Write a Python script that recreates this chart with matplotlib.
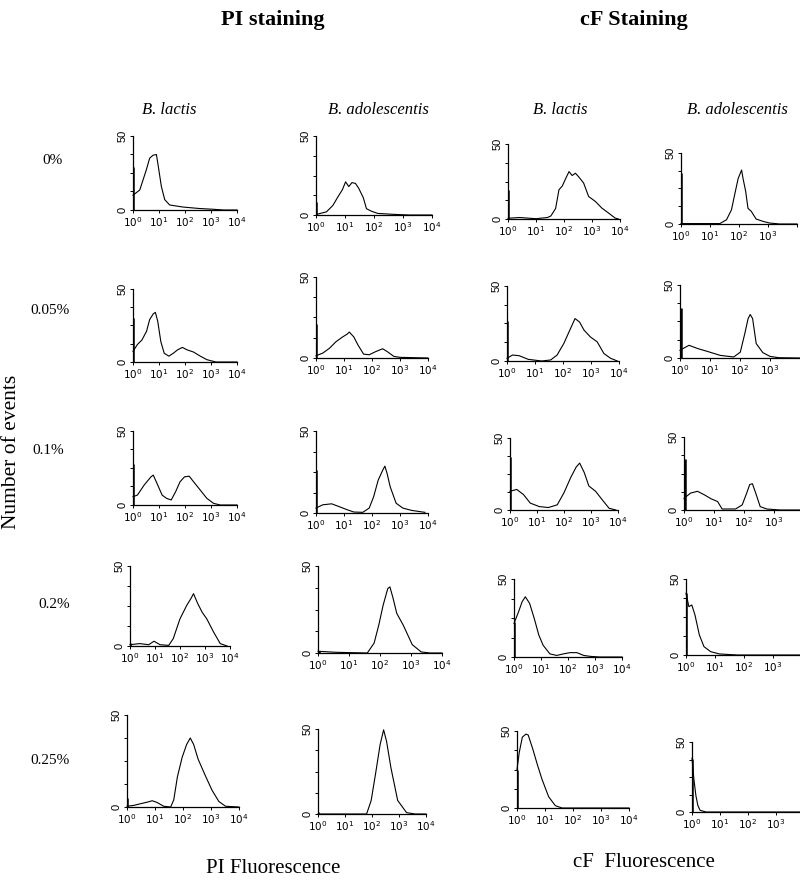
import matplotlib
matplotlib.use("Agg")
import matplotlib.pyplot as plt
import numpy as np

plt.rcParams['mathtext.fontset'] = 'custom'
plt.rcParams['mathtext.rm'] = 'Liberation Sans'
plt.rcParams['mathtext.it'] = 'Liberation Sans'

# ---- data: x in decades (log10 channel), y = number of events ----
concentrations = ['0%', '0.05%', '0.1%', '0.2%', '0.25%']
species = ['B. lactis', 'B. adolescentis', 'B. lactis', 'B. adolescentis']

# height of the first-channel spike, one value per row
spike_pi_lac = [29, 30, 28, 2, 5]
spike_pi_ado = [8, 21, 26, 1, 1]
spike_cf_lac = [19.5, 26.5, 37, 22.5, 25]
spike_cf_ado = [36, 34, 35, 41, 38]

# PI staining, B. lactis
pi_lac_0_x = [0, 0.26, 0.51, 0.64, 0.77, 0.9, 0.96, 1.09, 1.22, 1.41, 1.92, 2.56, 3.08, 3.5, 4.0]
pi_lac_0_y = [10, 13.5, 27, 35, 37, 37.5, 31, 16, 7, 3.4, 2, 1, 0.5, 0, 0]
pi_lac_1_x = [0, 0.17, 0.34, 0.52, 0.64, 0.78, 0.86, 0.95, 1.07, 1.2, 1.38, 1.55, 1.72, 1.9, 2.07, 2.33, 2.59, 2.84, 3.19, 4.0]
pi_lac_1_y = [7.3, 12, 15, 21, 29, 33, 34, 28, 14, 6, 4, 6, 8.4, 10, 8.4, 6.8, 4, 1.6, 0, 0]
pi_lac_2_x = [0, 0.17, 0.43, 0.69, 0.78, 0.95, 1.12, 1.29, 1.47, 1.64, 1.81, 1.98, 2.16, 2.33, 2.59, 2.84, 3.1, 3.36, 4.0]
pi_lac_2_y = [5.6, 6.7, 13.5, 19, 20.2, 13.5, 6.7, 4.5, 3.4, 9, 15.7, 19, 19.5, 15.7, 10, 4.5, 1.1, 0, 0]
pi_lac_3_x = [0, 0.39, 0.75, 0.96, 1.2, 1.55, 1.73, 2.0, 2.27, 2.45, 2.54, 2.71, 2.89, 3.07, 3.34, 3.61, 3.88]
pi_lac_3_y = [0.8, 1.5, 0.8, 3, 0.8, 0.4, 4.6, 17, 25.4, 30, 32.7, 26.5, 21, 17, 8.8, 1.5, 0]
pi_lac_4_x = [0, 0.25, 0.49, 0.74, 0.9, 1.07, 1.31, 1.56, 1.67, 1.8, 1.97, 2.13, 2.26, 2.38, 2.54, 2.79, 3.03, 3.28, 3.52, 4.0]
pi_lac_4_y = [0.4, 0.9, 1.8, 2.7, 3.4, 2.5, 0.4, 0, 3.9, 16.4, 27, 34, 37.5, 34, 26, 17.3, 9.3, 3, 0.4, 0]

# PI staining, B. adolescentis
pi_ado_0_x = [0.02, 0.36, 0.58, 0.74, 0.91, 1.02, 1.13, 1.24, 1.36, 1.47, 1.63, 1.74, 1.91, 2.13, 2.69, 3.2, 4.0]
pi_ado_0_y = [0.4, 2, 6, 11, 16, 21, 18, 20.5, 20, 17, 11, 4, 2.4, 1, 0.4, 0, 0]
pi_ado_1_x = [0, 0.24, 0.48, 0.71, 0.95, 1.11, 1.19, 1.35, 1.5, 1.7, 1.9, 2.14, 2.38, 2.54, 2.78, 3.0, 4.0]
pi_ado_1_y = [1.4, 3, 6, 10, 13, 14.7, 16, 13, 8, 2.4, 2, 4, 5.7, 4, 1, 0.4, 0]
pi_ado_2_x = [0, 0.24, 0.56, 0.87, 1.11, 1.35, 1.67, 1.9, 2.06, 2.22, 2.38, 2.46, 2.54, 2.65, 2.86, 3.1, 3.41, 3.89]
pi_ado_2_y = [3, 5, 5.6, 3.6, 2, 0.6, 0.4, 3, 10, 20, 26, 28.6, 24, 16, 6, 3, 1.6, 0.4]
pi_ado_3_x = [0, 0.58, 1.59, 1.81, 1.96, 2.1, 2.25, 2.32, 2.42, 2.54, 2.75, 3.04, 3.33, 3.62, 4.0]
pi_ado_3_y = [1, 0.4, 0, 5.7, 16, 27.4, 37, 38, 31.6, 22.8, 16, 4.8, 0.6, 0, 0]
pi_ado_4_x = [0, 1.8, 1.97, 2.13, 2.3, 2.43, 2.54, 2.7, 2.95, 3.28, 3.6, 4.0]
pi_ado_4_y = [0, 0, 8, 23.5, 40.8, 49.5, 42.7, 27.3, 8, 0.8, 0, 0]

# cF staining, B. lactis
cf_lac_0_x = [0, 0.41, 1.0, 1.41, 1.53, 1.7, 1.82, 1.94, 2.06, 2.18, 2.29, 2.41, 2.53, 2.7, 2.88, 3.12, 3.35, 3.59, 3.82, 3.94]
cf_lac_0_y = [0.5, 1, 0.2, 1, 2, 7, 19.5, 22, 27, 31.6, 29, 30.5, 28, 24, 15, 11.7, 7.3, 4, 0.7, 0]
cf_lac_1_x = [0, 0.2, 0.44, 0.76, 1.24, 1.56, 1.79, 2.03, 2.27, 2.43, 2.59, 2.75, 2.98, 3.22, 3.46, 3.7, 3.94]
cf_lac_1_y = [1.8, 4, 3.5, 1.1, 0, 0.7, 4, 11.7, 21.7, 28.3, 26, 20.6, 16, 12.8, 5, 1.8, 0]
cf_lac_2_x = [0, 0.25, 0.5, 0.75, 1.08, 1.42, 1.75, 2.0, 2.25, 2.45, 2.58, 2.75, 2.92, 3.17, 3.42, 3.67, 3.92]
cf_lac_2_y = [13, 14.3, 10.7, 4.8, 2.4, 1.7, 3.6, 12, 22.6, 29.8, 32.6, 26, 16.7, 13, 7, 1.2, 0]
cf_lac_3_x = [0, 0.17, 0.3, 0.42, 0.58, 0.75, 0.92, 1.08, 1.33, 1.58, 1.83, 2.08, 2.33, 2.58, 2.83, 3.17, 4.0]
cf_lac_3_y = [21.5, 29, 35.4, 38.6, 34.3, 24.7, 14, 7.5, 2, 1, 2, 2.8, 2.8, 1, 0.4, 0, 0]
cf_lac_4_x = [0, 0.08, 0.19, 0.32, 0.4, 0.56, 0.73, 0.89, 1.13, 1.37, 1.61, 4.0]
cf_lac_4_y = [25, 36, 46, 48, 47.4, 38.5, 28, 18.8, 7.3, 1.5, 0, 0]

# cF staining, B. adolescentis
cf_ado_0_x = [0, 1.34, 1.57, 1.74, 1.85, 1.97, 2.05, 2.09, 2.14, 2.23, 2.31, 2.42, 2.59, 2.82, 3.05, 3.4, 4.0]
cf_ado_0_y = [0.3, 0.3, 3, 10, 20.6, 32, 36, 38, 32, 23, 11, 9, 3.5, 1.9, 0.7, 0, 0]
cf_ado_1_x = [0, 0.3, 0.6, 0.9, 1.34, 1.79, 2.01, 2.16, 2.27, 2.34, 2.42, 2.54, 2.76, 3.0, 3.3, 4.0]
cf_ado_1_y = [5.3, 8.7, 6.4, 4.6, 1.8, 0.7, 4, 16.7, 27, 29.8, 27, 9.9, 3.7, 1.1, 0.2, 0]
cf_ado_2_x = [0, 0.22, 0.45, 0.67, 0.9, 1.12, 1.27, 1.72, 1.94, 2.09, 2.19, 2.28, 2.39, 2.54, 2.76, 3.2, 4.0]
cf_ado_2_y = [8, 11.6, 12.8, 10.5, 7.7, 5.8, 0.7, 0.7, 3.5, 11.6, 17.4, 18, 11.6, 2.3, 0.7, 0, 0]
cf_ado_3_x = [0, 0.1, 0.2, 0.31, 0.46, 0.62, 0.85, 1.15, 1.77, 4.0]
cf_ado_3_y = [40.6, 31.8, 32.9, 26.3, 13.2, 5.5, 2.2, 0.7, 0, 0]
cf_ado_4_x = [0, 0.07, 0.14, 0.21, 0.29, 0.5, 4.0]
cf_ado_4_y = [38.4, 23, 11.6, 4.6, 1.2, 0, 0]

columns = [
    (spike_pi_lac, [(pi_lac_0_x, pi_lac_0_y), (pi_lac_1_x, pi_lac_1_y), (pi_lac_2_x, pi_lac_2_y),
                    (pi_lac_3_x, pi_lac_3_y), (pi_lac_4_x, pi_lac_4_y)]),
    (spike_pi_ado, [(pi_ado_0_x, pi_ado_0_y), (pi_ado_1_x, pi_ado_1_y), (pi_ado_2_x, pi_ado_2_y),
                    (pi_ado_3_x, pi_ado_3_y), (pi_ado_4_x, pi_ado_4_y)]),
    (spike_cf_lac, [(cf_lac_0_x, cf_lac_0_y), (cf_lac_1_x, cf_lac_1_y), (cf_lac_2_x, cf_lac_2_y),
                    (cf_lac_3_x, cf_lac_3_y), (cf_lac_4_x, cf_lac_4_y)]),
    (spike_cf_ado, [(cf_ado_0_x, cf_ado_0_y), (cf_ado_1_x, cf_ado_1_y), (cf_ado_2_x, cf_ado_2_y),
                    (cf_ado_3_x, cf_ado_3_y), (cf_ado_4_x, cf_ado_4_y)]),
]

# ---- layout in pixels: (y-axis x, px per decade, y of "50", y of "0") ----
W, H = 800, 880
boxes = [
    [(133, 26, 136, 210), (316, 29, 136, 215), (508, 28, 144, 219), (681, 29, 153, 224)],
    [(133, 26, 289, 362), (316, 28, 277, 358), (507, 28, 286, 361), (680, 30, 285, 358)],
    [(133, 26, 431, 505), (316, 28, 431, 513), (510, 27, 438, 510), (684, 30, 437, 510)],
    [(130, 25, 566, 646), (318, 31, 566, 653), (514, 27, 579, 657), (686, 29, 579, 655)],
    [(127, 28, 715, 807), (318, 27, 729, 814), (517, 28, 731, 808), (692, 28, 742, 812)],
]
# row label anchors (left x, centre y)
row_label_pos = [(42, 160), (30, 311), (32, 450), (38, 605), (30, 760)]

fig = plt.figure(figsize=(8, 8.8), dpi=100)
serif = 'Liberation Serif'
sans = 'Liberation Sans'

xt_labels = [r'$\mathregular{10^{%d}}$' % i for i in range(5)]

for c, (spikes, curves) in enumerate(columns):
    for r in range(5):
        x0, dec, top, zero = boxes[r][c]
        ax = fig.add_axes([x0 / W, 1 - zero / H, 4 * dec / W, (zero - top) / H])
        lx, ny = curves[r]
        ax.plot(10 ** np.array(lx), ny, color='black', lw=0.8, clip_on=False)
        ax.vlines(1.04, 0, spikes[r], color='black', lw=1.8)
        ax.set_xscale('log')
        ax.set_xlim(1, 1e4)
        ax.set_ylim(0, 50)
        for s in ['top', 'right']:
            ax.spines[s].set_visible(False)
        ax.spines['left'].set_linewidth(0.9)
        ax.spines['bottom'].set_linewidth(0.9)
        ax.set_xticks([1, 10, 100, 1000, 10000])
        if c == 3:
            ax.set_xticklabels(xt_labels[:4] + [''])
        else:
            ax.set_xticklabels(xt_labels)
        ax.set_yticks([0, 50])
        ax.set_yticklabels(['0', '50'], rotation=90, va='center')
        ax.set_yticks([12.5, 25, 37.5], minor=True)
        ax.tick_params(axis='x', which='major', length=2.5, width=0.7, pad=1, labelsize=7.5)
        ax.tick_params(axis='x', which='minor', length=1.5, width=0.5)
        ax.tick_params(axis='y', which='major', length=2.5, width=0.7, pad=1.5, labelsize=8)
        ax.tick_params(axis='y', which='minor', length=2, width=0.7)
        for t in ax.get_yticklabels():
            t.set_family(sans)
        ax.patch.set_alpha(0)

# titles and labels
fig.text(273 / W, 1 - 20 / H, 'PI staining', family=serif, weight='bold', fontsize=16,
         ha='center', va='center')
fig.text(634 / W, 1 - 20 / H, 'cF Staining', family=serif, weight='bold', fontsize=16,
         ha='center', va='center')
for xc, name in zip([169, 378, 560, 737], species):
    fig.text(xc / W, 1 - 110 / H, name, family=serif, style='italic', fontsize=12,
             ha='center', va='center')
for (xl, yc), lab in zip(row_label_pos, concentrations):
    fig.text(xl / W, 1 - yc / H, lab, family=serif, fontsize=11, ha='left', va='center')
fig.text(12 / W, 1 - 452 / H, 'Number of events', family=serif, fontsize=15.5,
         rotation=90, ha='center', va='center')
fig.text(273 / W, 1 - 868 / H, 'PI Fluorescence', family=serif, fontsize=15,
         ha='center', va='center')
fig.text(644 / W, 1 - 862 / H, 'cF  Fluorescence', family=serif, fontsize=15,
         ha='center', va='center')

fig.savefig('out.png', dpi=100)
